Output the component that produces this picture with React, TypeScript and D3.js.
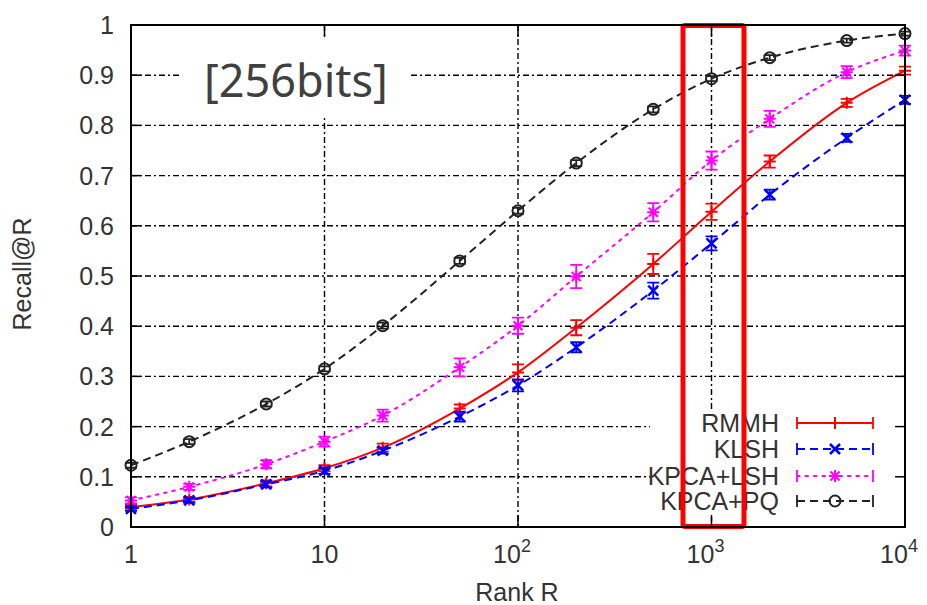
import React from "react";
import * as d3 from "d3";

const ranks = [1, 2, 5, 10, 20, 50, 100, 200, 500, 1000, 2000, 5000, 10000];
const rmmh = [0.04, 0.055, 0.087, 0.117, 0.158, 0.236, 0.308, 0.397, 0.524, 0.628, 0.728, 0.845, 0.909];
const rmmhErr = [0.004, 0.005, 0.006, 0.006, 0.008, 0.008, 0.016, 0.015, 0.02, 0.016, 0.012, 0.008, 0.008];
const klsh = [0.036, 0.053, 0.085, 0.112, 0.152, 0.22, 0.282, 0.358, 0.471, 0.565, 0.662, 0.775, 0.851];
const klshErr = [0.004, 0.005, 0.006, 0.006, 0.006, 0.01, 0.012, 0.01, 0.016, 0.014, 0.01, 0.008, 0.008];
const kpcaLsh = [0.053, 0.08, 0.125, 0.17, 0.222, 0.318, 0.401, 0.499, 0.627, 0.73, 0.813, 0.906, 0.949];
const kpcaLshErr = [0.006, 0.006, 0.008, 0.01, 0.012, 0.018, 0.016, 0.023, 0.018, 0.018, 0.016, 0.012, 0.01];
const kpcaPq = [0.123, 0.17, 0.245, 0.315, 0.401, 0.53, 0.63, 0.725, 0.832, 0.893, 0.935, 0.969, 0.983];
const kpcaPqErr = [0.005, 0.005, 0.005, 0.005, 0.006, 0.006, 0.006, 0.006, 0.006, 0.005, 0.005, 0.004, 0.004];

const yTicks = [0, 0.1, 0.2, 0.3, 0.4, 0.5, 0.6, 0.7, 0.8, 0.9, 1];
const xTicks = [1, 10, 100, 1000, 10000];
const xTickBase = ["1", "10", "10", "10", "10"];
const xTickExp = ["", "", "2", "3", "4"];

const seriesNames = ["RMMH", "KLSH", "KPCA+LSH", "KPCA+PQ"];
const seriesColors = ["#ff0000", "#0000ff", "#ff00ff", "#222222"];
const seriesDash = ["none", "8,5", "2.5,6", "8,5"];
const seriesMarkers = ["plus", "cross", "star", "circle"];

const W = 927, H = 605;
const L = 131, R = 905, T = 25, B = 527;
const FONT = "'Liberation Sans', Arial, sans-serif";

function Marker({ type, x, y, color }: { type: string; x: number; y: number; color: string }) {
  const s = 6;
  if (type === "plus")
    return <path d={`M${x - s},${y}H${x + s}M${x},${y - s}V${y + s}`} stroke={color} strokeWidth={2} fill="none" />;
  if (type === "cross")
    return <path d={`M${x - 5},${y - 5}L${x + 5},${y + 5}M${x - 5},${y + 5}L${x + 5},${y - 5}`} stroke={color} strokeWidth={2.5} fill="none" />;
  if (type === "star")
    return (
      <path
        d={`M${x - s},${y}H${x + s}M${x},${y - s}V${y + s}M${x - 4.5},${y - 4.5}L${x + 4.5},${y + 4.5}M${x - 4.5},${y + 4.5}L${x + 4.5},${y - 4.5}`}
        stroke={color} strokeWidth={2} fill="none" />
    );
  return <circle cx={x} cy={y} r={5.5} stroke={color} strokeWidth={2} fill="none" />;
}

export default function App() {
  const x = d3.scaleLog().domain([1, 10000]).range([L, R]);
  const y = d3.scaleLinear().domain([0, 1]).range([B, T]);
  const values = [rmmh, klsh, kpcaLsh, kpcaPq];
  const errs = [rmmhErr, klshErr, kpcaLshErr, kpcaPqErr];
  const line = d3.line<number>().x((_, i) => x(ranks[i])).y((d) => y(d)).curve(d3.curveMonotoneX);
  const legendY = [423, 449, 476, 501];
  const gridDash = "6,3,2,3";

  return (
    <svg width={W} height={H} style={{ position: "absolute", left: 0, top: 0, background: "#fff" }} fontFamily={FONT}>
      <rect x={0} y={0} width={W} height={H} fill="#fff" />
      {/* grid */}
      <g stroke="#000" strokeWidth={1.4} strokeDasharray={gridDash}>
        {yTicks.slice(1, -1).map((t) => (
          <line key={"gy" + t} x1={L} x2={R} y1={y(t)} y2={y(t)} />
        ))}
        {xTicks.slice(1, -1).map((t) => (
          <line key={"gx" + t} x1={x(t)} x2={x(t)} y1={T} y2={B} />
        ))}
      </g>
      {/* title label box */}
      <rect x={182} y={36} width={228} height={82} fill="#fff" />
      <text x={204} y={97} fontFamily="'Noto Sans', sans-serif" fontSize={45} fill="#404040">[256bits]</text>
      {/* legend box */}
      <rect x={650} y={410} width={R - 650} height={107} fill="#fff" />

      {/* series */}
      {values.map((vals, si) => (
        <g key={"s" + si}>
          <path d={line(vals) || ""} fill="none" stroke={seriesColors[si]} strokeWidth={2}
            strokeDasharray={seriesDash[si]} strokeLinecap={si === 2 ? "round" : "butt"} />
          {vals.map((v, i) => {
            const cx = x(ranks[i]);
            const e = errs[si][i];
            const y1 = y(v + e), y2 = y(v - e);
            return (
              <g key={i}>
                <path d={`M${cx},${y1}V${y2}M${cx - 6},${y1}H${cx + 6}M${cx - 6},${y2}H${cx + 6}`}
                  stroke={seriesColors[si]} strokeWidth={1.8} fill="none" />
                <Marker type={seriesMarkers[si]} x={cx} y={y(v)} color={seriesColors[si]} />
              </g>
            );
          })}
        </g>
      ))}

      {/* legend */}
      {seriesNames.map((n, i) => (
        <g key={"l" + n}>
          <text x={779} y={legendY[i] + 9} textAnchor="end" fontSize={25} fill="#333">{n}</text>
          <line x1={797} x2={873} y1={legendY[i]} y2={legendY[i]} stroke={seriesColors[i]} strokeWidth={2}
            strokeDasharray={seriesDash[i]} strokeLinecap={i === 2 ? "round" : "butt"} />
          <path d={`M797,${legendY[i] - 6}V${legendY[i] + 6}M873,${legendY[i] - 6}V${legendY[i] + 6}`}
            stroke={seriesColors[i]} strokeWidth={1.8} />
          <Marker type={seriesMarkers[i]} x={835} y={legendY[i]} color={seriesColors[i]} />
        </g>
      ))}

      {/* red highlight */}
      <rect x={683} y={25.5} width={61} height={501} fill="none" stroke="#ff0000" strokeWidth={5} rx={2} />

      {/* ticks */}
      <g stroke="#000" strokeWidth={1.5}>
        {yTicks.map((t) => (
          <g key={"ty" + t}>
            <line x1={L} x2={L + 10} y1={y(t)} y2={y(t)} />
            <line x1={R} x2={R - 10} y1={y(t)} y2={y(t)} />
          </g>
        ))}
        {xTicks.map((t) => (
          <g key={"tx" + t}>
            <line x1={x(t)} x2={x(t)} y1={B} y2={B - 12} />
            <line x1={x(t)} x2={x(t)} y1={T} y2={T + 12} />
          </g>
        ))}
      </g>
      <rect x={L} y={T} width={R - L} height={B - T} fill="none" stroke="#000" strokeWidth={2} />

      {/* tick labels */}
      {yTicks.map((t) => (
        <text key={"ly" + t} x={114} y={y(t) + 9} textAnchor="end" fontSize={25} fill="#333">{String(t)}</text>
      ))}
      {xTicks.map((t, i) => (
        <text key={"lx" + t} x={x(t) + (xTickExp[i] ? -6 : 0)} y={563} textAnchor="middle" fontSize={25} fill="#333">
          {xTickBase[i]}
          {xTickExp[i] ? <tspan dy={-11} fontSize={18}>{xTickExp[i]}</tspan> : null}
        </text>
      ))}
      <text x={517} y={601} textAnchor="middle" fontSize={25} fill="#333">Rank R</text>
      <text transform="translate(31,274) rotate(-90)" textAnchor="middle" fontSize={25} fill="#333">Recall@R</text>
    </svg>
  );
}
